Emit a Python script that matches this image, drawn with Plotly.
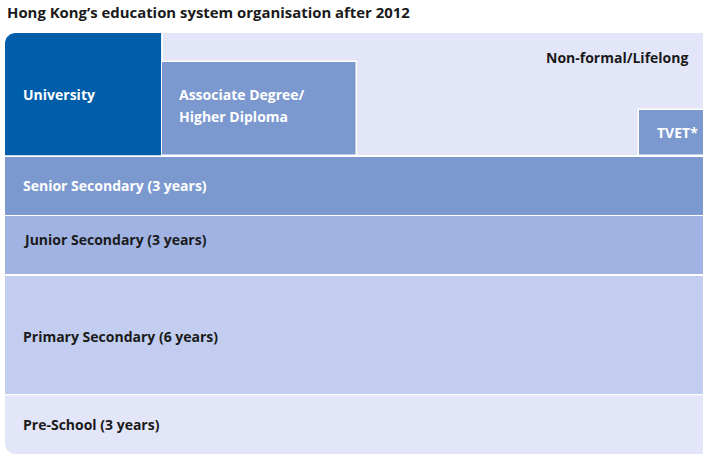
import numpy as np
import plotly.graph_objects as go

# ---- data ----
title_text = "Hong Kong’s education system organisation after 2012"

layers = ["Pre-School (3 years)", "Primary Secondary (6 years)",
          "Junior Secondary (3 years)", "Senior Secondary (3 years)"]
layer_years = [3, 6, 3, 3]
layer_colors = ["#E3E6F8", "#C2CDEF", "#A0B3E2", "#7B98CF"]
layer_text_colors = ["#1a1a1a", "#1a1a1a", "#1a1a1a", "#ffffff"]
layer_text_shift = [0, -2, 6, 0]

tertiary = ["University", "Associate Degree/<br>Higher Diploma", "TVET*"]
tertiary_start = [0.0, 22.45, 90.85]
tertiary_end = [22.36, 50.36, 103.0]
tertiary_height = [6.15, 4.68, 2.29]
tertiary_colors = ["#005DA9", "#7B98CF", "#7B98CF"]

nonformal_label = "Non-formal/Lifelong"
nonformal_start = 22.58
nonformal_end = 103.0
nonformal_height = 6.15
nonformal_color = "#E3E6F8"

# ---- style ----
W, H = 703, 455
MARGIN = dict(l=5, r=0, t=33, b=1)
GAP = 0.075          # white separation between layers (y units)
CORNER = 10          # px
FONT = "Open Sans"
FS = 14
FS_TITLE = 14.9
X_RANGE = [0, 100]
total_formal = sum(layer_years)
top_base = total_formal + GAP / 2
Y_RANGE = [0, top_base + nonformal_height + 0.005]
PX_X = (W - MARGIN["l"] - MARGIN["r"]) / (X_RANGE[1] - X_RANGE[0])
PX_Y = (H - MARGIN["t"] - MARGIN["b"]) / (Y_RANGE[1] - Y_RANGE[0])

fig = go.Figure()


def add_bar(x0, x1, base, h, color, line=0):
    fig.add_trace(go.Bar(
        x=[(x0 + x1) / 2], width=[x1 - x0], base=[base], y=[h],
        marker=dict(color=color, line=dict(color="white", width=line)),
        hoverinfo="skip", showlegend=False))


def add_rounded(x0, x1, y0, y1, color, corner):
    """Rectangle with one rounded left corner ('tl' or 'bl')."""
    rx, ry = CORNER / PX_X, CORNER / PX_Y
    if corner == "tl":
        t = np.linspace(np.pi / 2, np.pi, 16)
        ax, ay = x0 + rx + rx * np.cos(t), y1 - ry + ry * np.sin(t)
        xs = [x1, x1] + list(ax) + [x0, x1]
        ys = [y0, y1] + list(ay) + [y0, y0]
    else:
        t = np.linspace(1.5 * np.pi, np.pi, 16)
        ax, ay = x0 + rx + rx * np.cos(t), y0 + ry + ry * np.sin(t)
        xs = [x1, x1] + list(ax) + [x0, x1]
        ys = [y1, y0] + list(ay) + [y1, y1]
    fig.add_trace(go.Scatter(x=xs, y=ys, mode="lines", fill="toself",
                             fillcolor=color, line=dict(width=0),
                             hoverinfo="skip", showlegend=False))


def label(x, y, text, color, xanchor="left", xshift=16, yshift=0,
          xref="x", yref="y"):
    fig.add_annotation(x=x, y=y, xref=xref, yref=yref, text=f"<b>{text}</b>",
                       showarrow=False, xanchor=xanchor, yanchor="middle",
                       xshift=xshift, yshift=yshift, align="left",
                       font=dict(family=FONT, size=FS, color=color))


# formal school layers
cum = 0
for i, (name, yrs) in enumerate(zip(layers, layer_years)):
    b0 = cum + (GAP / 2 if i > 0 else 0)
    b1 = cum + yrs - GAP / 2
    if i == 0:
        add_rounded(X_RANGE[0], 103, b0, b1, layer_colors[i], "bl")
    else:
        add_bar(X_RANGE[0], 103, b0, b1 - b0, layer_colors[i])
    label(X_RANGE[0], cum + yrs / 2, name, layer_text_colors[i],
          yshift=layer_text_shift[i])
    cum += yrs

# non-formal / lifelong background
add_bar(nonformal_start, nonformal_end, top_base, nonformal_height, nonformal_color)
label(1, 1, nonformal_label, "#1a1a1a", xanchor="right", xshift=-13,
      yshift=-24, xref="paper", yref="paper")

# tertiary blocks
for i, name in enumerate(tertiary):
    x0, x1, h = tertiary_start[i], tertiary_end[i], tertiary_height[i]
    if i == 0:
        add_rounded(x0, x1, top_base, top_base + h, tertiary_colors[i], "tl")
    else:
        add_bar(x0, x1, top_base - 0.05, h + 0.05, tertiary_colors[i], line=1.5)
    yc = top_base + h / 2
    if i == 2:
        label(X_RANGE[1], yc, name, "white", xanchor="right", xshift=-3)
    else:
        lines = name.split("<br>")
        n = len(lines)
        for k, ln in enumerate(lines):
            label(x0, yc, ln, "white", xshift=(16 if i == 0 else 15),
                  yshift=(n - 1) * 11 - k * 22 + (3 if i == 1 else 0))

# title
fig.add_annotation(x=0, y=1, xref="paper", yref="paper",
                   text=f"<b>{title_text}</b>", showarrow=False,
                   xanchor="left", yanchor="middle", xshift=0, yshift=21,
                   font=dict(family=FONT, size=FS_TITLE, color="#1a1a1a"))

fig.update_layout(
    width=W, height=H,
    margin=MARGIN,
    barmode="overlay", bargap=0,
    paper_bgcolor="white", plot_bgcolor="white",
    xaxis=dict(range=X_RANGE, visible=False, fixedrange=True),
    yaxis=dict(range=Y_RANGE, visible=False, fixedrange=True),
)

fig.write_html("out.html", config={"displayModeBar": False},
               post_script="document.body.style.margin='0';"
                           "document.body.style.overflow='hidden';")
